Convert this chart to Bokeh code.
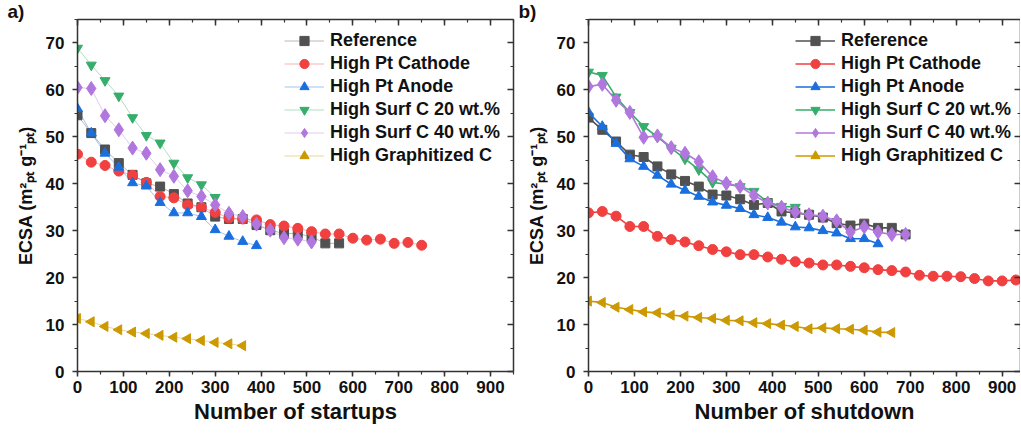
import math
from bokeh.plotting import figure
from bokeh.layouts import row
from bokeh.models import (LinearAxis, SingleIntervalTicker, Range1d, Legend,
                          LegendItem, CustomJSTickFormatter)
from bokeh.embed import file_html
from bokeh.resources import INLINE

# ---------------- data ----------------
names = ["Reference", "High Pt Cathode", "High Pt Anode",
         "High Surf C 20 wt.%", "High Surf C 40 wt.%", "High Graphitized C"]
colors = ["#515151", "#F14040", "#1A6FDF", "#37AD6B", "#B177DE", "#CC9900"]
markers = ["square", "circle", "triangle", "inverted_triangle", "diamond", "triangle"]
angles = [0, 0, 0, 0, 0, math.pi / 2]
sizes = [9, 10, 10, 10, 14, 10]

# panel a) startups
a_ref_x = [0, 30, 60, 90, 120, 150, 180, 210, 240, 270, 300, 330, 360, 390, 420, 450, 480, 510, 540, 570]
a_ref_y = [54.6, 50.8, 47.3, 44.4, 41.9, 40.1, 39.4, 37.8, 35.8, 35.0, 33.0, 32.5, 32.5, 31.2, 30.1, 29.4, 29.4, 28.7, 27.3, 27.3]
a_cat_x = [0, 30, 60, 90, 120, 150, 180, 210, 240, 270, 300, 330, 360, 390, 420, 450, 480, 510, 540, 570, 600, 630, 660, 690, 720, 750]
a_cat_y = [46.3, 44.6, 43.9, 42.7, 41.8, 40.3, 37.3, 37.0, 35.5, 35.0, 33.9, 32.7, 32.5, 32.3, 31.3, 31.0, 30.5, 29.8, 29.3, 29.3, 28.4, 28.0, 28.2, 27.3, 27.5, 26.9]
a_ano_x = [0, 30, 60, 90, 120, 150, 180, 210, 240, 270, 300, 330, 360, 390]
a_ano_y = [56.0, 50.8, 46.5, 43.5, 40.2, 39.5, 36.0, 33.8, 33.8, 33.0, 30.2, 28.8, 27.7, 26.8]
a_s20_x = [0, 30, 60, 90, 120, 150, 180, 210, 240, 270, 300]
a_s20_y = [68.9, 65.3, 62.0, 58.7, 54.1, 50.3, 48.7, 44.4, 41.3, 39.8, 37.1]
a_s40_x = [0, 30, 60, 90, 120, 150, 180, 210, 240, 270, 300, 330, 360, 390, 420, 450, 480, 510]
a_s40_y = [60.5, 60.3, 54.5, 51.5, 47.6, 46.5, 43.0, 41.6, 38.5, 37.3, 35.5, 33.7, 33.0, 31.4, 30.1, 28.5, 28.2, 27.6]
a_gra_x = [0, 30, 60, 90, 120, 150, 180, 210, 240, 270, 300, 330, 360]
a_gra_y = [11.3, 10.6, 9.6, 8.9, 8.4, 8.1, 7.7, 7.3, 7.0, 6.6, 6.2, 5.9, 5.5]

# panel b) shutdowns
b_ref_x = [0, 30, 60, 90, 120, 150, 180, 210, 240, 270, 300, 330, 360, 390, 420, 450, 480, 510, 540, 570, 600, 630, 660, 690]
b_ref_y = [54.1, 51.5, 49.0, 46.2, 45.7, 43.7, 42.0, 40.6, 39.4, 37.7, 37.5, 36.7, 35.5, 35.9, 34.1, 33.8, 33.4, 32.8, 31.6, 31.1, 31.5, 30.6, 30.6, 29.2]
b_cat_x = [0, 30, 60, 90, 120, 150, 180, 210, 240, 270, 300, 330, 360, 390, 420, 450, 480, 510, 540, 570, 600, 630, 660, 690, 720, 750, 780, 810, 840, 870, 900, 930]
b_cat_y = [33.8, 34.1, 33.1, 30.9, 30.9, 28.8, 28.1, 27.6, 26.8, 26.0, 25.5, 24.9, 24.9, 24.4, 23.9, 23.4, 23.1, 22.7, 22.7, 22.4, 22.1, 21.7, 21.5, 21.2, 20.5, 20.3, 20.3, 20.2, 19.8, 19.3, 19.3, 19.5]
b_ano_x = [0, 30, 60, 90, 120, 150, 180, 210, 240, 270, 300, 330, 360, 390, 420, 450, 480, 510, 540, 570, 600, 630]
b_ano_y = [55.2, 52.2, 48.6, 45.3, 43.7, 41.8, 39.9, 38.6, 37.3, 36.1, 35.4, 34.7, 33.4, 32.8, 31.8, 30.8, 30.6, 30.0, 29.5, 28.3, 28.3, 27.2]
b_s20_x = [0, 30, 60, 90, 120, 150, 180, 210, 240, 270, 300, 330, 360, 390, 420, 450]
b_s20_y = [63.8, 63.1, 58.5, 55.2, 52.2, 50.0, 47.6, 45.3, 43.0, 40.3, 39.9, 39.4, 38.4, 36.1, 35.2, 35.0]
b_s40_x = [0, 30, 60, 90, 120, 150, 180, 210, 240, 270, 300, 330, 360, 390, 420, 450, 480, 510, 540, 570, 600, 630, 660, 690]
b_s40_y = [60.7, 61.2, 57.8, 55.2, 49.9, 50.2, 47.7, 46.5, 44.7, 41.5, 40.1, 39.4, 37.5, 35.9, 35.0, 34.0, 33.4, 33.1, 32.1, 29.7, 30.8, 29.7, 29.2, 29.2]
b_gra_x = [0, 30, 60, 90, 120, 150, 180, 210, 240, 270, 300, 330, 360, 390, 420, 450, 480, 510, 540, 570, 600, 630, 660]
b_gra_y = [15.0, 14.7, 13.7, 13.2, 12.7, 12.5, 12.0, 11.8, 11.5, 11.3, 10.9, 10.8, 10.4, 10.2, 9.9, 9.6, 9.1, 9.3, 9.1, 9.0, 8.8, 8.4, 8.3]

a_series = [(a_ref_x, a_ref_y), (a_cat_x, a_cat_y), (a_ano_x, a_ano_y),
            (a_s20_x, a_s20_y), (a_s40_x, a_s40_y), (a_gra_x, a_gra_y)]
b_series = [(b_ref_x, b_ref_y), (b_cat_x, b_cat_y), (b_ano_x, b_ano_y),
            (b_s20_x, b_s20_y), (b_s40_x, b_s40_y), (b_gra_x, b_gra_y)]

FONT = "Liberation Sans"
AXC = "#333333"
YLABEL = "ECSA (m\u00b2\u209a\u209c g\u207b\u00b9\u209a\u209c)"


def style_axis(ax, labels=True, inward=False):
    ax.axis_line_color = AXC
    ax.axis_line_width = 1.5
    ax.major_tick_line_color = AXC
    ax.minor_tick_line_color = AXC
    ax.major_tick_line_width = 1.5
    ax.minor_tick_line_width = 1.2
    if inward:
        ax.major_tick_in = 6
        ax.major_tick_out = 0
        ax.minor_tick_in = 3
        ax.minor_tick_out = 0
    else:
        ax.major_tick_in = 0
        ax.major_tick_out = 5
        ax.minor_tick_in = 0
        ax.minor_tick_out = 3
    ax.major_label_text_font = FONT
    ax.major_label_text_font_style = "bold"
    ax.major_label_text_font_size = "17px"
    ax.major_label_text_color = "#111111"
    ax.axis_label_text_font = FONT
    ax.axis_label_text_font_style = "bold"
    ax.axis_label_text_font_size = "22px"
    ax.axis_label_text_color = "#111111"
    if not labels:
        ax.formatter = CustomJSTickFormatter(code="return ''")
        ax.major_label_standoff = 0


def make_panel(series, xlabel, border_left, frame_width, xend, border_right,
               line_alpha, line_width, panel_text):
    p = figure(frame_width=frame_width, frame_height=352,
               x_range=Range1d(0, xend), y_range=Range1d(0, 75),
               output_backend="svg", toolbar_location=None,
               min_border_left=border_left, min_border_right=border_right,
               min_border_top=0, min_border_bottom=64,
               x_axis_location=None, y_axis_location=None,
               title=panel_text)
    p.grid.visible = False
    p.outline_line_color = None
    p.background_fill_color = "white"
    p.border_fill_color = "white"

    # panel letter as the figure title, pushed left of the frame
    p.title.align = "left"
    p.title.offset = -70
    p.title.standoff = -4
    p.title.text_font = FONT
    p.title.text_font_style = "bold"
    p.title.text_font_size = "19px"
    p.title.text_color = "#111111"

    xt = SingleIntervalTicker(interval=100, num_minor_ticks=2)
    yt = SingleIntervalTicker(interval=10, num_minor_ticks=2)

    bottom = LinearAxis(ticker=xt, axis_label=xlabel)
    style_axis(bottom)
    bottom.major_label_standoff = 4
    bottom.axis_label_standoff = 3
    p.add_layout(bottom, "below")

    left = LinearAxis(ticker=yt, axis_label=YLABEL)
    style_axis(left)
    left.axis_label_text_font_size = "18px"
    left.major_label_standoff = 8
    left.axis_label_standoff = 7
    p.add_layout(left, "left")

    top = LinearAxis(ticker=SingleIntervalTicker(interval=100, num_minor_ticks=2))
    style_axis(top, labels=False, inward=True)
    p.add_layout(top, "above")

    right = LinearAxis(ticker=SingleIntervalTicker(interval=10, num_minor_ticks=2))
    style_axis(right, labels=False, inward=True)
    p.add_layout(right, "right")

    items = []
    for i, (xs, ys) in enumerate(series):
        ln = p.line(xs, ys, line_color=colors[i], line_alpha=line_alpha,
                    line_width=line_width)
        sc = p.scatter(xs, ys, marker=markers[i], size=sizes[i], angle=angles[i],
                       fill_color=colors[i], line_color=colors[i], line_width=1)
        items.append(LegendItem(label=names[i], renderers=[ln, sc]))

    leg = Legend(items=items, location=(207, 204), padding=0, margin=0, spacing=0,
                 glyph_width=40, glyph_height=23, label_height=23,
                 label_standoff=6, border_line_alpha=0, background_fill_alpha=0,
                 label_text_font=FONT, label_text_font_style="bold",
                 label_text_font_size="18px", label_text_color="#111111")
    p.add_layout(leg)
    return p


p1 = make_panel(a_series, "Number of startups", 77, 436, 950, 4, 0.4, 1.0, "a)")
p2 = make_panel(b_series, "Number of shutdown", 71, 432, 940, 0, 1.0, 1.6, "b)")

layout = row(p1, p2)
open("out.html", "w").write(file_html(layout, INLINE))
